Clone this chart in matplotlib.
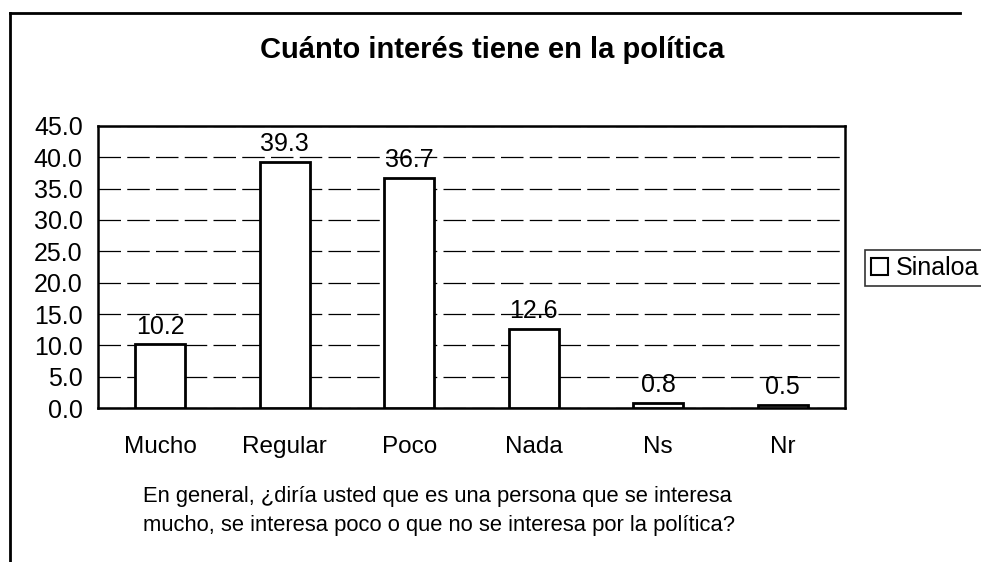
import matplotlib
matplotlib.use("Agg")
import matplotlib.pyplot as plt
from matplotlib.lines import Line2D
from matplotlib.patches import Patch

categories = ["Mucho", "Regular", "Poco", "Nada", "Ns", "Nr"]
values = [10.2, 39.3, 36.7, 12.6, 0.8, 0.5]
series_name = "Sinaloa"
title = "Cuánto interés tiene en la política"
question = ("En general, ¿diría usted que es una persona que se interesa\n"
            "mucho, se interesa poco o que no se interesa por la política?")
yticks = [0, 5, 10, 15, 20, 25, 30, 35, 40, 45]

plt.rcParams['font.family'] = ['Liberation Sans', 'DejaVu Sans']

fig = plt.figure(figsize=(9.81, 5.62), dpi=100)
ax = fig.add_axes([98/981, 1-408/562, (845-98)/981, (408-126)/562])

x = list(range(len(categories)))
bars = ax.bar(x, values, width=0.4, facecolor="white", edgecolor="black", linewidth=2, zorder=3)
for xi, v in zip(x, values):
    ax.annotate(f"{v:.1f}", (xi, v), xytext=(0, 4), textcoords="offset points",
                ha="center", va="bottom", fontsize=18, zorder=4)

ax.set_xlim(-0.5, len(categories) - 0.5)
ax.set_ylim(0, 45)
ax.set_yticks(yticks)
ax.set_yticklabels([f"{t:.1f}" for t in yticks], fontsize=18)
ax.set_xticks(x)
ax.set_xticklabels(categories, fontsize=17.5)
ax.tick_params(axis="y", length=0, pad=11)
ax.tick_params(axis="x", length=0, pad=20)
ax.yaxis.grid(True, color="black", linewidth=0.9, linestyle=(0, (18, 5)), zorder=0)
ax.set_axisbelow(True)
for s in ax.spines.values():
    s.set_linewidth(1.8)
    s.set_color("black")

fig.text(492/981, 1-50/562, title, ha="center", va="center", fontsize=21, fontweight="bold")
fig.text(143/981, 1-511/562, question, ha="left", va="center", fontsize=15.8, linespacing=1.5)

handle = Patch(facecolor="white", edgecolor="black", linewidth=1.5)
leg = fig.legend([handle], [series_name], loc="center left", bbox_to_anchor=(865/981, 1-268/562),
                 fontsize=18, frameon=True, fancybox=False, edgecolor="black",
                 handlelength=0.65, handleheight=0.65, handletextpad=0.35, borderpad=0.25,
                 borderaxespad=0)
leg.get_frame().set_linewidth(1.2)

fig.add_artist(Line2D([10/981, 10/981], [0, 1-13/562], transform=fig.transFigure, color="black", linewidth=2))
fig.add_artist(Line2D([10/981, 960/981], [1-13/562, 1-13/562], transform=fig.transFigure, color="black", linewidth=2))

fig.savefig("out.png", dpi=100)
